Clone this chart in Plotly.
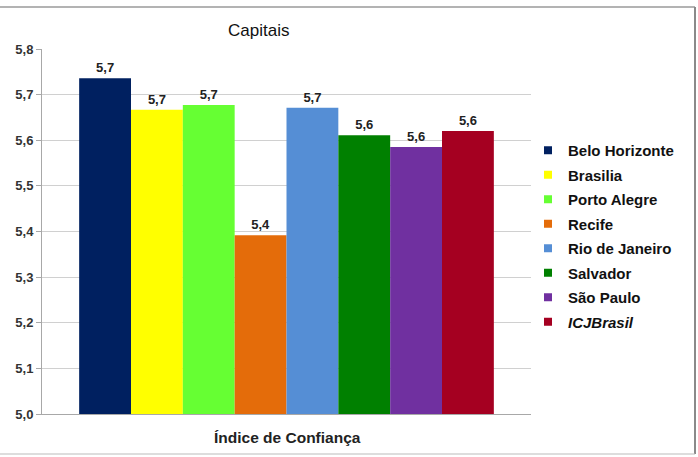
import plotly.graph_objects as go

categories = ["Índice de Confiança"]
series_names = ["Belo Horizonte", "Brasilia", "Porto Alegre", "Recife",
                "Rio de Janeiro", "Salvador", "São Paulo", "<i>ICJBrasil</i>"]
series_values = [5.736, 5.667, 5.677, 5.392, 5.671, 5.611, 5.585, 5.620]
series_colors = ["#002060", "#FFFF00", "#66FF33", "#E46C0A",
                 "#558ED5", "#008000", "#7030A0", "#A50021"]
y_ticks = [5.0, 5.1, 5.2, 5.3, 5.4, 5.5, 5.6, 5.7, 5.8]

FONT = "Liberation Sans, Arial, sans-serif"

fig = go.Figure()
for i, (name, val, col) in enumerate(zip(series_names, series_values, series_colors)):
    fig.add_trace(go.Bar(
        x=[0], y=[val], name=name, marker=dict(color=col, line=dict(width=0)),
        texttemplate="%{y:.1f}", textposition="outside", cliponaxis=False,
        textfont=dict(family=FONT, size=13, color="#222222", weight="bold"),
        legendgroup=str(i), showlegend=False,
    ))
# legend entries with small square keys
for i, (name, col) in enumerate(zip(series_names, series_colors)):
    fig.add_trace(go.Scatter(
        x=[None], y=[None], mode="markers", name=name,
        marker=dict(symbol="square", size=8, color=col),
        legendgroup=str(i), showlegend=True, hoverinfo="skip",
    ))

W, H = 698, 457
L, R, T, B = 42, 167, 49, 43
pw, ph = W - L - R, H - T - B

def px2x(px):
    return (px - L) / pw

def py2y(py):
    return (H - B - py) / ph

fig.update_layout(
    width=W, height=H,
    margin=dict(l=L, r=R, t=T, b=B),
    paper_bgcolor="white", plot_bgcolor="white",
    separators=",.",
    barmode="group", bargap=0.152, bargroupgap=0,
    showlegend=True,
    font=dict(family=FONT, color="#222222"),
    legend=dict(x=px2x(528), xanchor="left", y=py2y(134), yanchor="top",
                font=dict(family=FONT, size=15, color="#111111", weight="bold"),
                tracegroupgap=2, itemwidth=30, bgcolor="rgba(0,0,0,0)"),
    xaxis=dict(range=[-0.5, 0.5], showticklabels=False, showgrid=False,
               zeroline=False, showline=True, linecolor="#a8a8a8", linewidth=1),
    yaxis=dict(range=[5.0, 5.8], tickvals=y_ticks, tickformat=".1f",
               showgrid=True, gridcolor="#d0d0d0", gridwidth=1,
               showline=True, linecolor="#a8a8a8", linewidth=1,
               ticks="outside", ticklen=5, tickcolor="#a8a8a8",
               zeroline=False,
               tickfont=dict(family=FONT, size=13, color="#333333", weight="bold")),
    annotations=[
        dict(text="Capitais", xref="paper", yref="paper", x=px2x(258), y=py2y(30),
             xanchor="center", yanchor="middle", showarrow=False,
             font=dict(family=FONT, size=17, color="#111111")),
        dict(text=categories[0], xref="paper", yref="paper", x=px2x(287), y=py2y(437),
             xanchor="center", yanchor="middle", showarrow=False,
             font=dict(family=FONT, size=15.5, color="#222222", weight="bold")),
    ],
    shapes=[
        dict(type="line", xref="paper", yref="paper", x0=px2x(-5), x1=px2x(695),
             y0=py2y(7), y1=py2y(7), line=dict(color="#9a9a9a", width=1.5)),
        dict(type="line", xref="paper", yref="paper", x0=px2x(695), x1=px2x(695),
             y0=py2y(7), y1=py2y(454), line=dict(color="#8a8a8a", width=2)),
        dict(type="line", xref="paper", yref="paper", x0=px2x(-5), x1=px2x(695),
             y0=py2y(454), y1=py2y(454), line=dict(color="#bbbbbb", width=1)),
    ],
)

fig.write_html("out.html")
